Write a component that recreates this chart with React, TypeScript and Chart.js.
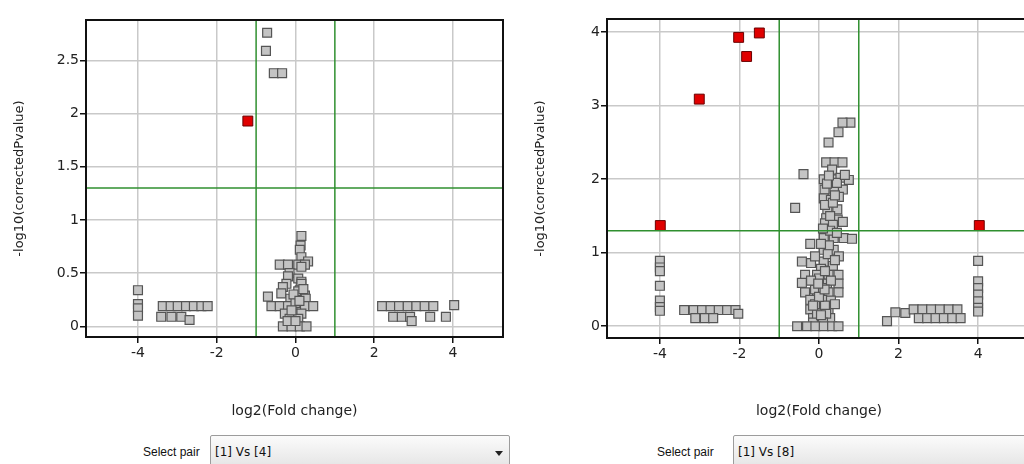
import React, { useEffect, useRef } from "react";
import { Chart, registerables } from "chart.js";

Chart.register(...registerables);

// ---------- data ----------
const X_TICKS = [-4, -2, 0, 2, 4];
const LEFT_Y_TICKS = [0, 0.5, 1, 1.5, 2, 2.5];
const RIGHT_Y_TICKS = [0, 1, 2, 3, 4];
const FOLD_THRESHOLDS = [-1, 1];
const P_THRESHOLD = 1.3;

const X_TITLE = "log2(Fold change)";
const Y_TITLE = "-log10(correctedPvalue)";
const SELECT_LABEL = "Select pair";
const LEFT_PAIR = "[1] Vs [4]";
const RIGHT_PAIR = "[1] Vs [8]";

// Pair [1] Vs [4]
const LEFT_RED: [number, number][] = [[-1.21, 1.93]];
const LEFT_GRAY: [number, number][] = [
  [-0.72, 2.76], [-0.75, 2.59], [-0.55, 2.38], [-0.34, 2.38],
  [-4, 0.34], [-4, 0.21], [-4, 0.17], [-4, 0.1],
  [-3.37, 0.19], [-3.17, 0.19], [-2.99, 0.19], [-2.78, 0.19], [-2.58, 0.19], [-2.39, 0.19], [-2.23, 0.19],
  [-3.41, 0.09], [-3.15, 0.09], [-2.9, 0.09], [-2.69, 0.06],
  [2.2, 0.19], [2.42, 0.19], [2.63, 0.19], [2.85, 0.19], [3.07, 0.19], [3.28, 0.19], [3.5, 0.19],
  [2.48, 0.09], [2.7, 0.09], [2.91, 0.09], [3.42, 0.09], [3.82, 0.09], [2.95, 0.05], [4.03, 0.2],
  [0.15, 0.85], [0.13, 0.76], [0.11, 0.72], [0.15, 0.65], [0.32, 0.61], [-0.4, 0.58], [-0.19, 0.58],
  [0.07, 0.58], [0.24, 0.58], [0.15, 0.56], [-0.15, 0.5], [-0.19, 0.47], [0.07, 0.45], [0.15, 0.42],
  [-0.23, 0.4], [0.15, 0.4], [-0.32, 0.37], [0.11, 0.34], [0.07, 0.33], [-0.36, 0.31], [0.24, 0.29],
  [-0.7, 0.28], [-0.13, 0.26], [0.26, 0.26], [-0.61, 0.19], [-0.4, 0.19], [-0.19, 0.19], [0.03, 0.19],
  [0.24, 0.19], [0.45, 0.19], [-0.27, 0.12], [-0.06, 0.12], [0.15, 0.12], [-0.15, 0.07], [0.07, 0.07],
  [-0.32, 0], [-0.1, 0], [0.11, 0], [0.28, 0], [0.0, 0.22], [-0.05, 0.3], [0.2, 0.35], [-0.1, 0.15],
  [0.1, 0.24], [-0.2, 0.05], [0.0, 0.05],
];

// Pair [1] Vs [8]
const RIGHT_RED: [number, number][] = [
  [-3.99, 1.37], [-3.01, 3.09], [-2.02, 3.93], [-1.82, 3.67], [-1.5, 3.99], [4.03, 1.37],
];
const RIGHT_GRAY: [number, number][] = [
  [-4, 0.89], [-4, 0.8], [-4, 0.75], [-4, 0.55], [-4, 0.35], [-4, 0.26], [-4, 0.21],
  [-3.39, 0.22], [-3.15, 0.22], [-2.94, 0.22], [-2.73, 0.22], [-2.52, 0.22], [-2.31, 0.22], [-2.1, 0.22],
  [-2.03, 0.17], [-3.11, 0.11], [-2.87, 0.11], [-2.66, 0.11],
  [1.71, 0.07], [1.92, 0.19], [2.17, 0.18], [2.38, 0.23], [2.6, 0.23], [2.82, 0.23], [3.04, 0.23],
  [3.26, 0.23], [3.48, 0.23], [2.51, 0.11], [2.72, 0.11], [2.93, 0.11], [3.14, 0.11], [3.35, 0.11], [3.56, 0.11],
  [4, 0.89], [4, 0.61], [4, 0.52], [4, 0.43], [4, 0.34], [4, 0.25], [4, 0.2],
  [0.79, 2.77], [0.59, 2.77], [0.49, 2.64], [0.24, 2.5], [0.18, 2.23], [0.39, 2.23], [0.59, 2.23],
  [-0.39, 2.07], [0.33, 2.13], [0.12, 2.0], [0.33, 2.0], [0.54, 2.02], [0.75, 1.99], [0.14, 1.86],
  [0.39, 1.86], [0.6, 1.86], [0.2, 1.94], [0.45, 1.95], [0.65, 2.06], [0.12, 1.74], [0.3, 1.72],
  [0.5, 1.76], [-0.6, 1.61], [0.21, 1.59], [0.46, 1.59], [0.15, 1.65], [0.35, 1.68], [0.18, 1.47],
  [0.47, 1.45], [0.15, 1.4], [0.6, 1.42], [0.35, 1.38], [0.12, 1.2], [0.37, 1.2], [0.62, 1.2],
  [0.83, 1.19], [-0.22, 1.12], [0.12, 1.04], [0.37, 1.04], [0.25, 1.1], [0.5, 0.95], [0.12, 0.88],
  [-0.43, 0.88], [-0.2, 0.86], [0.35, 0.82], [0.05, 0.78], [-0.35, 0.7], [-0.05, 0.7], [0.24, 0.7],
  [0.49, 0.7], [-0.43, 0.59], [-0.08, 0.59], [0.2, 0.58], [0.49, 0.58], [0.0, 0.65], [-0.35, 0.46],
  [-0.05, 0.47], [0.24, 0.46], [0.49, 0.46], [-0.22, 0.36], [0.08, 0.36], [0.3, 0.35], [-0.22, 0.23],
  [0.03, 0.23], [0.24, 0.23], [-0.15, 0.11], [0.06, 0.11], [0.28, 0.11], [-0.1, 0.3], [0.15, 0.28],
  [-0.05, 0.16], [0.18, 0.17], [-0.1, 0.5], [0.1, 0.52], [-0.15, 0.05], [0.1, 0.05],
  [-0.55, 0], [-0.3, 0], [-0.09, 0], [0.12, 0], [0.33, 0], [0.49, 0],
  [0.28, 1.3], [0.1, 1.33], [0.45, 1.27], [0.22, 0.98], [0.4, 0.9], [0.3, 0.62], [0.0, 0.4],
  [-0.2, 0.62], [0.15, 0.75], [-0.1, 0.95], [0.05, 1.12], [-0.15, 0.28], [0.14, 0.5], [0.4, 0.3],
  [0.28, 1.5], [0.4, 1.78], [0.25, 2.05], [0.05, 0.15], [-0.02, 0.58],
];

// ---------- styles ----------
const GREEN = "#2f8f2f";
const GRID = "#c9c9c9";
const FONT = "'DejaVu Sans', sans-serif";

const framePlugin = {
  id: "frame",
  afterDatasetsDraw(chart: any) {
    const { ctx, chartArea: a } = chart;
    ctx.save();
    ctx.strokeStyle = "#111";
    ctx.lineWidth = 2;
    ctx.strokeRect(a.left, a.top, a.right - a.left, a.bottom - a.top);
    ctx.restore();
  },
};

type Cfg = {
  gray: [number, number][];
  red: [number, number][];
  xMin: number; xMax: number; yMin: number; yMax: number;
  yTicks: number[];
  padTop: number; padRight: number;
  yWidth: number; xHeight: number; yTitlePad: number;
};

function makeConfig(c: Cfg): any {
  const toPts = (arr: [number, number][]) => arr.map(([x, y]) => ({ x, y }));
  const lineDs = (data: { x: number; y: number }[]) => ({
    type: "line",
    data,
    showLine: true,
    borderColor: GREEN,
    borderWidth: 1.5,
    pointRadius: 0,
    fill: false,
  });
  return {
    type: "scatter",
    data: {
      datasets: [
        ...FOLD_THRESHOLDS.map((t) => lineDs([{ x: t, y: c.yMin }, { x: t, y: c.yMax }])),
        lineDs([{ x: c.xMin, y: P_THRESHOLD }, { x: c.xMax, y: P_THRESHOLD }]),
        {
          data: toPts(c.red),
          pointStyle: "rect",
          pointRadius: 7,
          backgroundColor: "#e00000",
          borderColor: "#6a0000",
          borderWidth: 1,
        },
        {
          data: toPts(c.gray),
          pointStyle: "rect",
          pointRadius: 6.3,
          backgroundColor: "#c4c4c4",
          borderColor: "#555555",
          borderWidth: 1.2,
        },
      ],
    },
    plugins: [framePlugin],
    options: {
      animation: false,
      responsive: false,
      events: [],
      layout: { padding: { top: c.padTop, right: c.padRight, left: 0, bottom: 0 } },
      plugins: { legend: { display: false }, tooltip: { enabled: false } },
      scales: {
        x: {
          type: "linear",
          min: c.xMin,
          max: c.xMax,
          afterBuildTicks: (s: any) => { s.ticks = X_TICKS.map((v) => ({ value: v })); },
          afterFit: (s: any) => { s.height = c.xHeight; },
          border: { display: false },
          grid: { color: GRID, lineWidth: 1.5, tickColor: "#111", tickLength: 6, tickWidth: 1.5 },
          ticks: { autoSkip: false, maxRotation: 0, padding: 2, color: "#222", font: { family: FONT, size: 14 }, callback: (v: any) => String(v) },
          title: { display: true, text: X_TITLE, color: "#222", font: { family: FONT, size: 14 }, padding: { top: 0, bottom: 10 } },
        },
        y: {
          type: "linear",
          min: c.yMin,
          max: c.yMax,
          afterBuildTicks: (s: any) => { s.ticks = c.yTicks.map((v) => ({ value: v })); },
          afterFit: (s: any) => { s.width = c.yWidth; },
          border: { display: false },
          grid: { color: GRID, lineWidth: 1.5, tickColor: "#111", tickLength: 6, tickWidth: 1.5 },
          ticks: { autoSkip: false, padding: 1, color: "#222", font: { family: FONT, size: 14 }, callback: (v: any) => String(v) },
          title: { display: true, text: Y_TITLE, color: "#222", font: { family: FONT, size: 13 }, padding: { top: c.yTitlePad, bottom: 0 } },
        },
      },
    },
  };
}

function Volcano({ cfg, left, width, height }: { cfg: Cfg; left: number; width: number; height: number }) {
  const ref = useRef<HTMLCanvasElement | null>(null);
  useEffect(() => {
    if (!ref.current) return;
    const chart = new Chart(ref.current, makeConfig(cfg));
    return () => chart.destroy();
  }, []);
  return (
    <canvas
      ref={ref}
      width={width}
      height={height}
      style={{ position: "absolute", left, top: 0, width, height }}
    />
  );
}

function SelectPair({ labelLeft, boxLeft, boxWidth, text }: { labelLeft: number; boxLeft: number; boxWidth: number; text: string }) {
  return (
    <>
      <div
        style={{
          position: "absolute", left: labelLeft, top: 444, fontFamily: "'Liberation Sans', sans-serif",
          fontSize: 12, color: "#111", lineHeight: "16px", whiteSpace: "nowrap",
        }}
      >
        {SELECT_LABEL}
      </div>
      <div
        style={{
          position: "absolute", left: boxLeft, top: 435, width: boxWidth, height: 34,
          border: "1px solid #9c9c9c", borderRadius: 2, boxSizing: "border-box",
          background: "linear-gradient(#fbfbfb, #e4e4e4)",
        }}
      >
        <div
          style={{
            position: "absolute", left: 4, top: 8, fontFamily: FONT, fontSize: 12,
            color: "#111", lineHeight: "16px", whiteSpace: "nowrap",
          }}
        >
          {text}
        </div>
        <div
          style={{
            position: "absolute", right: 6, top: 15, width: 0, height: 0,
            borderLeft: "4px solid transparent", borderRight: "4px solid transparent",
            borderTop: "5px solid #222",
          }}
        />
      </div>
    </>
  );
}

const LEFT_CFG: Cfg = {
  gray: LEFT_GRAY, red: LEFT_RED,
  xMin: -5.32, xMax: 5.27, yMin: -0.1, yMax: 2.88,
  yTicks: LEFT_Y_TICKS,
  padTop: 20, padRight: 9, yWidth: 86, xHeight: 93, yTitlePad: 12,
};

const RIGHT_CFG: Cfg = {
  gray: RIGHT_GRAY, red: RIGHT_RED,
  xMin: -5.33, xMax: 5.33, yMin: -0.16, yMax: 4.18,
  yTicks: RIGHT_Y_TICKS,
  padTop: 19, padRight: 11, yWidth: 95, xHeight: 92, yTitlePad: 21,
};

export default function App() {
  return (
    <div
      style={{
        position: "fixed", left: 0, top: 0, width: 1024, height: 464,
        overflow: "hidden", background: "#fff",
      }}
    >
      <Volcano cfg={LEFT_CFG} left={0} width={512} height={430} />
      <Volcano cfg={RIGHT_CFG} left={512} width={530} height={430} />
      <SelectPair labelLeft={143} boxLeft={210} boxWidth={300} text={LEFT_PAIR} />
      <SelectPair labelLeft={657} boxLeft={733} boxWidth={320} text={RIGHT_PAIR} />
    </div>
  );
}
